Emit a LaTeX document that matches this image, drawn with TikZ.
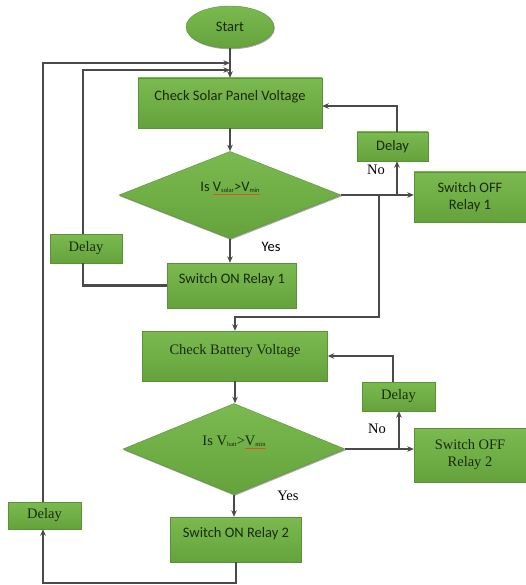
\documentclass[tikz,border=0pt]{standalone}
\usepackage{fontspec}
\setmainfont{Liberation Serif}
\newfontfamily\carl{Carlito}
\usetikzlibrary{shapes.geometric,arrows.meta,shadows}
\definecolor{gtop}{HTML}{7BBA50}
\definecolor{gbot}{HTML}{65A23C}
\definecolor{gedge}{HTML}{5A9236}
\definecolor{gtext}{HTML}{1A2A10}
\definecolor{lnc}{HTML}{4A4A4A}
\definecolor{squig}{HTML}{E0521B}
\newsavebox\ulbox
\newcommand\subtx[1]{\raisebox{-0.25ex}{\fontsize{6.5}{7}\selectfont #1}}
\newcommand\redul[1]{\begingroup\sbox\ulbox{#1}\rlap{\textcolor{squig}{\rule[-0.55ex]{\wd\ulbox}{0.9pt}}}\usebox\ulbox\endgroup}
\tikzset{
  gshape/.style={top color=gtop, bottom color=gbot, draw=gedge, line width=0.4pt,
    text=gtext, align=center, inner sep=2pt,
    drop shadow={shadow xshift=0.8pt, shadow yshift=-1.3pt, fill=black, opacity=0.35}},
  box/.style={rectangle, gshape},
  raised/.style={text height=10pt, text depth=14pt},
  dia/.style={diamond, gshape, inner sep=0pt, text height=10pt, text depth=18pt},
  sans/.style={font=\carl\fontsize{14.5}{17}\selectfont},
  serif/.style={font=\fontsize{14.5}{17}\selectfont},
  lbl/.style={text=black},
  ln/.style={draw=lnc, line width=2.6pt},
}
\begin{document}
\begin{tikzpicture}[x=1pt,y=-1pt,>={Stealth[length=6.5pt,width=5.5pt]}]
\useasboundingbox (0,0) rectangle (526,585);
\fill[white] (0,0) rectangle (526,585);

% nodes
\node[ellipse, gshape, sans, minimum width=88pt, minimum height=42pt, inner sep=0pt] (start) at (230,27) {Start};
\node[box, sans, raised, minimum width=184pt, minimum height=50pt] (solar) at (230,103) {Check Solar Panel Voltage};
\node[dia, sans, minimum width=222pt, minimum height=86pt] (dia1) at (230,195)
  {\fontsize{14.5}{16}\selectfont Is \redul{V\subtx{solar}>V\subtx{min}}};
\node[box, sans, raised, minimum width=129pt, minimum height=45pt] (on1) at (232,285.5) {Switch ON Relay 1};
\node[box, serif, minimum width=72pt, minimum height=29pt] (delayL1) at (86,248.5) {Delay};
\node[box, sans, minimum width=71pt, minimum height=29pt] (delayR1) at (392.5,146.5) {Delay};
\node[box, sans, minimum width=112pt, minimum height=50pt] (off1) at (470,197) {Switch OFF\\Relay 1};
\node[box, serif, raised, minimum width=185pt, minimum height=50pt] (batt) at (235,356) {Check Battery Voltage};
\node[box, serif, minimum width=73pt, minimum height=29pt] (delayR2) at (398.5,396.5) {Delay};
\node[dia, serif, minimum width=222pt, minimum height=88pt] (dia2) at (234,449)
  {\fontsize{14.5}{16}\selectfont Is V\subtx{batt}>\redul{V\subtx{min}}};
\node[box, serif, minimum width=112pt, minimum height=54pt] (off2) at (470,455) {Switch OFF\\Relay 2};
\node[box, sans, raised, minimum width=131pt, minimum height=45pt] (on2) at (236,539.5) {Switch ON Relay 2};
\node[box, serif, minimum width=73pt, minimum height=27pt] (delayL2) at (44.5,515.5) {Delay};

% labels
\node[sans, lbl] (yes1) at (271,247) {Yes};
\node[serif, lbl] (no1) at (376,170) {No};
\node[serif, lbl] (no2) at (377,429) {No};
\node[serif, lbl] (yes2) at (288,496) {Yes};

% coordinates
\coordinate (j1) at (397,195);
\coordinate (j2) at (379,195);
\coordinate (k1) at (235,317);
\coordinate (j3) at (399,449);
\coordinate (b1) at (43,583);
\coordinate (t1) at (230,63);
\coordinate (t1b) at (230,70);

% connectors
\draw[ln,->] (start.south) -- (start.south |- solar.north);
\draw[ln,->] (solar.south) -- (solar.south |- dia1.north);
\draw[ln,->] (dia1.south) -- (dia1.south |- on1.north);
\draw[ln,->] (dia1.east) -- (dia1.east -| off1.west);
\draw[ln,->] (j1) -- (j1 |- delayR1.south);
\draw[ln,->] (j1 |- delayR1.north) |- ([yshift=-3pt]solar.east);
\draw[ln,->] (j2) |- (k1) -- (k1 |- batt.north);
\draw[ln,->] (batt.south) -- (batt.south |- dia2.north);
\draw[ln,->] (dia2.east) -- (dia2.east -| off2.west);
\draw[ln,->] (j3) -- (j3 |- delayR2.south);
\draw[ln,->] ([xshift=-5.5pt]delayR2.north) |- (batt.east);
\draw[ln,->] (dia2.south) -- (dia2.south |- on2.north);
\draw[ln,->] (on2.south) |- (b1) -- (b1 |- delayL2.south);
\draw[ln,->] (b1 |- delayL2.north) |- (t1);
\draw[ln] (on1.west) -| ([xshift=-3pt]delayL1.south);
\draw[ln,->] ([xshift=-3pt]delayL1.north) |- (t1b);
\end{tikzpicture}
\end{document}
